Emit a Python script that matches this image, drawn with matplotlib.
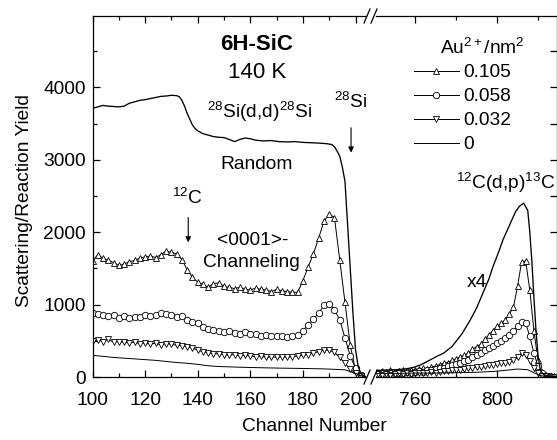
import numpy as np
import matplotlib
matplotlib.use("Agg")
import matplotlib.pyplot as plt
from matplotlib.ticker import MultipleLocator, NullFormatter
from matplotlib.lines import Line2D

plt.rcParams['font.family'] = ['Liberation Sans', 'DejaVu Sans']
plt.rcParams['mathtext.fontset'] = 'custom'
plt.rcParams['mathtext.rm'] = 'Liberation Sans'
plt.rcParams['mathtext.it'] = 'Liberation Sans'
plt.rcParams['font.size'] = 13.8

# ---- left part: 28Si(d,d) backscattering ----
ch_left = np.arange(100, 204, 2)
y_105 = [1600, 1690, 1640, 1610, 1580, 1540, 1560, 1590, 1610, 1640,
         1660, 1670, 1650, 1690, 1740, 1720, 1700, 1620, 1480, 1380,
         1310, 1280, 1240, 1290, 1300, 1250, 1240, 1220, 1240, 1210,
         1200, 1230, 1210, 1200, 1180, 1210, 1190, 1180, 1170, 1170,
         1330, 1520, 1700, 1920, 2150, 2250, 2200, 1620, 1030, 440,
         90, 20]
y_058 = [880, 870, 850, 840, 860, 810, 840, 820, 830, 830,
         860, 840, 850, 880, 870, 850, 830, 840, 790, 760,
         740, 690, 660, 650, 640, 620, 640, 610, 590, 620,
         600, 590, 570, 580, 560, 570, 560, 550, 560, 580,
         640, 720, 800, 880, 990, 1010, 930, 790, 540, 290,
         120, 30]
y_032 = [500, 510, 490, 520, 480, 490, 480, 470, 480, 460,
         470, 450, 470, 440, 460, 450, 440, 430, 420, 400,
         370, 350, 330, 320, 320, 310, 300, 310, 290, 300,
         290, 280, 290, 270, 280, 270, 280, 270, 280, 290,
         300, 310, 330, 350, 370, 370, 340, 270, 190, 110,
         50, 15]
ch_zero_l = [100, 104, 108, 112, 116, 120, 124, 128, 132, 136, 140, 144,
             148, 156, 164, 172, 180, 188, 196, 200, 203]
y_zero_l = [300, 285, 270, 260, 250, 240, 230, 215, 200, 190, 175, 155,
            145, 135, 128, 122, 118, 112, 100, 50, 5]
ch_rand = [100, 102, 104, 106, 108, 110, 112, 114, 116, 118, 120, 122,
           124, 126, 128, 130, 132, 133, 134, 135, 136, 137, 138, 139,
           140, 142, 144, 146, 148, 150, 152, 154, 156, 158, 160, 162,
           165, 168, 171, 174, 177, 180, 183, 186, 189, 191, 192, 193,
           194, 195, 196, 197, 198, 199, 200, 201, 202, 203, 204]
y_rand = [3710, 3730, 3750, 3740, 3735, 3730, 3740, 3780, 3800, 3820,
          3830, 3845, 3860, 3875, 3880, 3890, 3885, 3870, 3820, 3740,
          3640, 3560, 3480, 3430, 3400, 3360, 3340, 3320, 3310, 3306,
          3280, 3250, 3280, 3300, 3290, 3270, 3260, 3265, 3250, 3246,
          3250, 3240, 3235, 3230, 3222, 3210, 3180, 3120, 3050, 2900,
          2700, 2100, 1500, 900, 380, 150, 50, 15, 5]

# ---- right part: 12C(d,p)13C ----
ch_right = np.arange(742, 830, 2)
r_105 = [60, 80, 70, 90, 70, 80, 90, 80, 100, 90,
         110, 120, 110, 140, 150, 170, 190, 200, 230, 250,
         280, 300, 330, 380, 420, 450, 520, 580, 640, 700,
         740, 790, 870, 960, 1250, 1590, 1600, 1200, 640, 230,
         70, 30, 20, 10]
r_058 = [40, 50, 40, 60, 50, 60, 50, 70, 60, 70,
         80, 70, 90, 100, 110, 120, 130, 150, 160, 180,
         200, 220, 240, 270, 300, 330, 370, 400, 430, 470,
         500, 540, 580, 630, 700, 760, 740, 560, 330, 150,
         50, 20, 10, 5]
r_032 = [40, 30, 40, 30, 40, 50, 40, 50, 40, 50,
         60, 50, 60, 70, 60, 70, 80, 80, 90, 100,
         100, 110, 120, 130, 140, 140, 150, 160, 170, 180,
         190, 200, 210, 230, 270, 330, 300, 220, 120, 60,
         20, 10, 5, 5]
ch_zero_r = [741, 750, 760, 770, 780, 790, 800, 805, 810, 815, 818, 821, 825, 829]
y_zero_r = [50, 50, 55, 55, 60, 65, 80, 95, 110, 100, 60, 20, 5, 5]
ch_x4 = [741, 745, 750, 755, 759, 763, 767, 771, 774, 778, 780, 783, 787,
         790, 793, 796, 798, 801, 803, 806, 809, 811, 813, 815, 816, 817,
         818, 819, 820, 821, 822, 824, 829]
y_x4 = [90, 95, 100, 110, 130, 170, 230, 290, 330, 420, 490, 600, 790,
        950, 1150, 1350, 1520, 1740, 1900, 2090, 2280, 2360, 2400, 2300,
        2000, 1600, 1100, 650, 300, 120, 50, 20, 10]

labels = ['0.105', '0.058', '0.032', '0']

W, H = 557, 440
fig = plt.figure(figsize=(W / 100, H / 100), dpi=100)
x1l, x1r, x2l, x2r = 92.5, 366, 376, 556.5
ybot, ytop = 377, 16
ax1 = fig.add_axes([x1l / W, 1 - ybot / H, (x1r - x1l) / W, (ybot - ytop) / H])
ax2 = fig.add_axes([x2l / W, 1 - ybot / H, (x2r - x2l) / W, (ybot - ytop) / H])

mk = dict(markersize=4.6, markerfacecolor='white', markeredgecolor='black',
          markeredgewidth=0.6, color='black', lw=0.7)
l1, = ax1.plot(ch_left, y_105, marker='^', label=labels[0], **mk)
l2, = ax1.plot(ch_left, y_058, marker='o', label=labels[1], **mk)
l3, = ax1.plot(ch_left, y_032, marker='v', label=labels[2], **mk)
l4, = ax1.plot(ch_zero_l, y_zero_l, color='black', lw=0.7, label=labels[3])
ax1.plot(ch_rand, y_rand, color='black', lw=0.95)

ax2.plot(ch_right, r_105, marker='^', **mk)
ax2.plot(ch_right, r_058, marker='o', **mk)
ax2.plot(ch_right, r_032, marker='v', **mk)
ax2.plot(ch_zero_r, y_zero_r, color='black', lw=0.7)
ax2.plot(ch_x4, y_x4, color='black', lw=0.95)

ax1.set_xlim(100, 100 + (x1r - x1l) / 2.63)
ax2.set_xlim(760 - (415 - x2l) / 2.05, 760 + (x2r - 415) / 2.05)
for ax in (ax1, ax2):
    ax.set_ylim(0, 4985)
    for s in ax.spines.values():
        s.set_linewidth(0.9)
    ax.tick_params(which='both', direction='in', top=True, width=0.9)
    ax.tick_params(which='major', length=5, pad=10.5)
    ax.tick_params(which='minor', length=3)

ax1.spines['right'].set_visible(False)
ax2.spines['left'].set_visible(False)
ax1.xaxis.set_major_locator(MultipleLocator(20))
ax1.xaxis.set_minor_locator(MultipleLocator(10))
ax1.yaxis.set_major_locator(MultipleLocator(1000))
ax1.yaxis.set_minor_locator(MultipleLocator(500))
ax1.tick_params(axis='y', which='major', pad=5)
ax2.xaxis.set_major_locator(MultipleLocator(40))
ax2.xaxis.set_minor_locator(MultipleLocator(20))
ax2.yaxis.set_major_locator(MultipleLocator(500))
ax2.tick_params(axis='y', which='both', left=False, right=True, labelleft=False)
ax2.yaxis.set_minor_formatter(NullFormatter())

ax1.set_ylabel('Scattering/Reaction Yield')
ax1.yaxis.set_label_coords(-0.2175, 0.49)
fig.text(314 / W, 1 - 431 / H, 'Channel Number', ha='center', va='baseline')

# break marks
for yb in (ytop, ybot):
    for xs in (364, 371):
        fig.add_artist(Line2D([xs / W, (xs + 6) / W], [1 - (yb + 7) / H, 1 - (yb - 7) / H],
                              color='black', lw=0.9))

# annotations
ax1.text(162.5, 4590, '6H-SiC', ha='center', va='center', fontweight='bold', fontsize=16)
ax1.text(162.5, 4200, '140 K', ha='center', va='center', fontsize=16)
ax1.text(163.5, 3660, '$^{28}$Si(d,d)$^{28}$Si', ha='center', va='center')
ax1.text(162.5, 2930, 'Random', ha='center', va='center')
ax1.text(198.3, 3800, '$^{28}$Si', ha='center', va='center')
ax1.annotate('', xy=(198.3, 3060), xytext=(198.3, 3480),
             arrowprops=dict(arrowstyle='-|>', color='black', lw=0.8, mutation_scale=8))
ax1.text(136, 2470, '$^{12}$C', ha='center', va='center')
ax1.annotate('', xy=(136.4, 1820), xytext=(136.4, 2240),
             arrowprops=dict(arrowstyle='-|>', color='black', lw=0.8, mutation_scale=8))
ax1.text(161, 1890, '<0001>-', ha='center', va='center')
ax1.text(160.3, 1575, 'Channeling', ha='center', va='center')
ax2.text(790, 1310, 'x4', ha='center', va='center')
ax2.text(804.4, 2680, '$^{12}$C(d,p)$^{13}$C', ha='center', va='center', clip_on=False)

fig.text(482 / W, 1 - 48 / H, 'Au$^{2+}$/nm$^2$', ha='center', va='center')
ax2.legend(handles=[l1, l2, l3, l4], loc='upper left',
           bbox_to_anchor=(414 / W, 1 - 64 / H), bbox_transform=fig.transFigure,
           frameon=False, borderpad=0, borderaxespad=0, handlelength=2.33,
           handletextpad=0.26, labelspacing=0.34, numpoints=1)

fig.savefig('out.png', dpi=100)
